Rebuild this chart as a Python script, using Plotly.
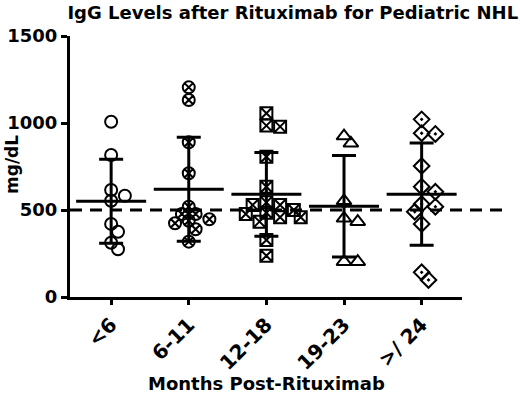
import numpy as np
import plotly.graph_objects as go

categories = ["<6", "6-11", "12-18", "19-23", ">/ 24"]
g_lt6 = [1007, 816, 615, 582, 553, 420, 375, 312, 274]
g_6_11 = [1205, 1132, 889, 711, 519, 477, 477, 447, 438, 424, 389, 318]
g_12_18 = [1056, 985, 979, 806, 634, 544, 529, 529, 500, 484, 477, 458, 458, 433, 328, 237]
g_19_23 = [925, 883, 553, 452, 433, 203, 203]
g_ge24 = [1021, 941, 937, 753, 634, 605, 534, 519, 490, 420, 142, 98]
groups = [g_lt6, g_6_11, g_12_18, g_19_23, g_ge24]
symbols = ["circle-open", "circle-x-open", "square-x-open", "triangle-up-open", "diamond-open-dot"]
reference_level = 500

# pixel scales used only for the beeswarm spreading
PX_PER_VAL = 261 / 1500.0
PX_PER_CAT = 77.7
DIAM = 12.5


def beeswarm(vals):
    order = np.argsort(-np.asarray(vals))
    placed = []
    offs = np.zeros(len(vals))
    for i in order:
        y = vals[i] * PX_PER_VAL
        cands = [0.0]
        for k in range(1, 12):
            cands += [k * DIAM * 0.55, -k * DIAM * 0.55]
        for c in cands:
            ok = all((c - px) ** 2 + (y - py) ** 2 >= (DIAM * 0.75) ** 2 for px, py in placed)
            if ok:
                placed.append((c, y))
                offs[i] = c / PX_PER_CAT
                break
    return offs


fig = go.Figure()
FONT = "DejaVu Sans, Liberation Sans, Arial, sans-serif"

for gi, vals in enumerate(groups):
    offs = beeswarm(vals)
    fig.add_trace(go.Scatter(
        x=gi + offs, y=vals, mode="markers",
        marker=dict(symbol=symbols[gi], size=12 if gi != 3 else 13, color="black",
                    line=dict(color="black", width=2)),
        cliponaxis=False, showlegend=False, hoverinfo="y"))
    arr = np.asarray(vals, dtype=float)
    m = arr.mean()
    sd = arr.std(ddof=1)
    fig.add_trace(go.Scatter(
        x=[gi], y=[m], mode="markers",
        marker=dict(symbol="line-ew", size=50, color="black",
                    line=dict(color="black", width=3)),
        error_y=dict(type="data", array=[sd], visible=True, color="black",
                     thickness=3, width=12),
        cliponaxis=False, showlegend=False, hoverinfo="y"))

fig.add_shape(type="line", xref="paper", yref="y", x0=0, x1=1.11,
              y0=reference_level, y1=reference_level,
              line=dict(color="black", width=3, dash="12px,8px"), layer="below")

L, R, T, B = 70, 58, 36, 98
pw = 520 - L - R
ph = 395 - T - B

fig.add_annotation(text="mg/dL", xref="paper", yref="paper",
                   x=(12 - L) / pw, y=(395 - B - 165) / ph, textangle=-90,
                   showarrow=False, xanchor="center", yanchor="middle",
                   font=dict(size=17, weight="bold", family=FONT, color="black"))
fig.add_annotation(text="Months Post-Rituximab", xref="paper", yref="paper",
                   x=(266 - L) / pw, y=(395 - B - 383) / ph,
                   showarrow=False, xanchor="center", yanchor="middle",
                   font=dict(size=18, weight="bold", family=FONT, color="black"))

fig.update_layout(
    width=520, height=395,
    margin=dict(l=L, r=R, t=T, b=B, autoexpand=False),
    paper_bgcolor="white", plot_bgcolor="white",
    font=dict(family=FONT, color="black", size=16),
    title=dict(text="IgG Levels after Rituximab for Pediatric NHL",
               x=0.563, xref="container", xanchor="center",
               y=0.969, yref="container", yanchor="middle",
               font=dict(size=18, weight="bold", family=FONT)),
    xaxis=dict(range=[-0.53, 4.52], tickmode="array", tickvals=list(range(5)),
               ticktext=categories, tickangle=-45, showline=True, linewidth=3,
               linecolor="black", ticks="outside", ticklen=5, tickwidth=3,
               tickcolor="black", showgrid=False, zeroline=False, automargin=False,
               tickfont=dict(size=20, weight="bold", family=FONT)),
    yaxis=dict(range=[0, 1500], tickvals=[0, 500, 1000, 1500], showline=True,
               linewidth=3, linecolor="black", ticks="outside", ticklen=6,
               tickwidth=3, tickcolor="black", showgrid=False, zeroline=False,
               automargin=False,
               tickfont=dict(size=18, weight="bold", family=FONT)),
)

fig.write_html("out.html", config={"displayModeBar": False},
               post_script="document.body.style.margin='0';")
